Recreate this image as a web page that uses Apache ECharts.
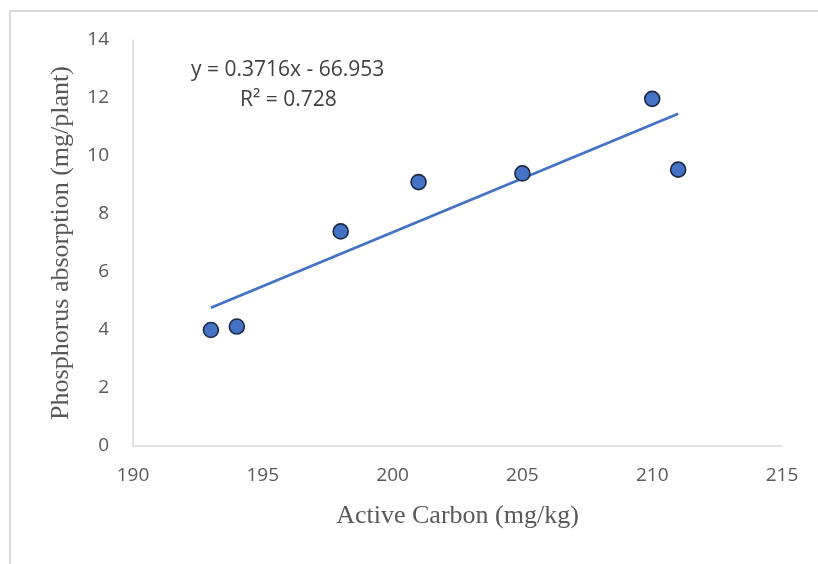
<!DOCTYPE html>
<html><head><meta charset="utf-8">
<script src="https://cdn.jsdelivr.net/npm/echarts@6/dist/echarts.min.js"></script>
<style>html,body{margin:0;padding:0;background:#fff}#c{width:818px;height:564px}</style>
</head><body><div id="c"></div>
<script>
const xVals = [193, 194, 198, 201, 205, 210, 211];
const yVals = [4.0, 4.12, 7.4, 9.1, 9.4, 11.97, 9.53];
const trendX = [193, 211];
const trendY = [4.766, 11.455];
const eqText = 'y = 0.3716x - 66.953';
const r2Text = 'R² = 0.728';
const xTitle = 'Active Carbon (mg/kg)';
const yTitle = 'Phosphorus absorption (mg/plant)';

const chart = echarts.init(document.getElementById('c'), null, {renderer: 'canvas'});
const sansFont = '"Open Sans","Liberation Sans",sans-serif';
const serifFont = '"Liberation Serif","Times New Roman",serif';
const labelFont = {color: '#595959', fontSize: 19, fontFamily: sansFont};
chart.setOption({
  animation: false,
  backgroundColor: '#fff',
  grid: {left: 133, right: 36, top: 40, bottom: 118},
  graphic: [
    {type: 'rect', shape: {x: 10, y: 11, width: 830, height: 570}, style: {fill: 'none', stroke: '#d9d9d9', lineWidth: 2}, silent: true},
    {type: 'text', left: 191, top: 60, style: {text: eqText, fill: '#404040', fontSize: 21, fontFamily: sansFont}},
    {type: 'text', left: 240, top: 90, style: {text: r2Text, fill: '#404040', fontSize: 21, fontFamily: sansFont}}
  ],
  xAxis: {
    type: 'value', min: 190, max: 215, interval: 5,
    name: xTitle, nameLocation: 'middle', nameGap: 57,
    nameTextStyle: {color: '#595959', fontSize: 26, fontFamily: serifFont},
    axisLine: {show: true, lineStyle: {color: '#d9d9d9', width: 1.5}},
    axisTick: {show: false},
    splitLine: {show: false},
    axisLabel: Object.assign({margin: 20}, labelFont)
  },
  yAxis: {
    type: 'value', min: 0, max: 14, interval: 2,
    name: yTitle, nameLocation: 'middle', nameGap: 59,
    nameTextStyle: {color: '#595959', fontSize: 26, fontFamily: serifFont},
    axisLine: {show: true, lineStyle: {color: '#d9d9d9', width: 1.5}},
    axisTick: {show: false},
    splitLine: {show: false},
    axisLabel: Object.assign({margin: 24}, labelFont)
  },
  series: [
    {
      type: 'line',
      data: trendX.map((x, i) => [x, trendY[i]]),
      symbol: 'none',
      lineStyle: {color: '#4472C4', width: 2.8},
      z: 2
    },
    {
      type: 'scatter',
      data: xVals.map((x, i) => [x, yVals[i]]),
      symbolSize: 15,
      itemStyle: {color: '#4472C4', borderColor: '#1c2a44', borderWidth: 1.6, opacity: 1},
      z: 3
    }
  ]
});
</script></body></html>
